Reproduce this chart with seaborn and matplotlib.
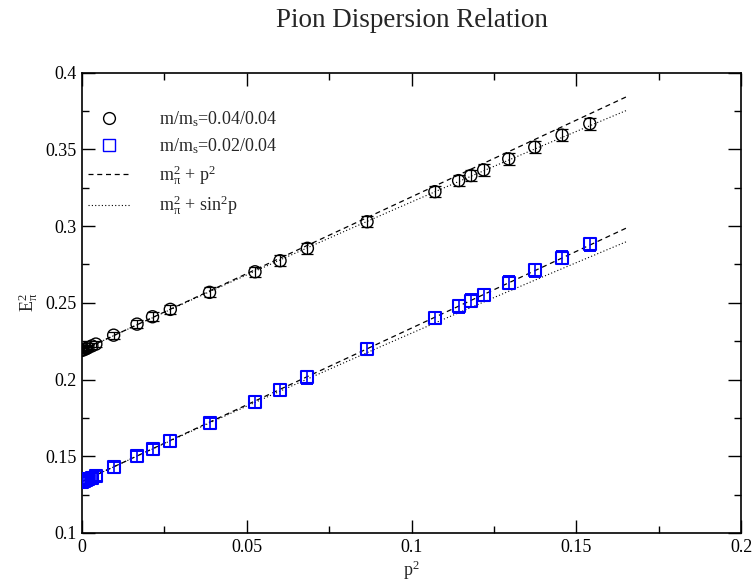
import numpy as np
import pandas as pd
import matplotlib
matplotlib.use("Agg")
import matplotlib.pyplot as plt
import seaborn as sns
from matplotlib.ticker import MultipleLocator, FuncFormatter
from matplotlib.lines import Line2D

# ---- data ----
p2 = [0.0, 0.0006, 0.0012, 0.0018, 0.0030, 0.0042, 0.0096, 0.0167, 0.0214,
      0.0268, 0.0387, 0.0525, 0.0601, 0.0684, 0.0865, 0.1071, 0.1143, 0.1180,
      0.1219, 0.1295, 0.1374, 0.1457, 0.1541]
E2_heavy = [0.2190, 0.2195, 0.2201, 0.2207, 0.2219, 0.2231, 0.2289, 0.2361,
            0.2409, 0.2457, 0.2568, 0.2702, 0.2774, 0.2855, 0.3028, 0.3224,
            0.3296, 0.3329, 0.3366, 0.3438, 0.3514, 0.3592, 0.3667]
err_heavy = [0.0015, 0.0015, 0.0015, 0.0016, 0.0017, 0.0018, 0.0022, 0.0026,
             0.0028, 0.0030, 0.0033, 0.0034, 0.0035, 0.0035, 0.0036, 0.0037,
             0.0037, 0.0037, 0.0037, 0.0037, 0.0038, 0.0038, 0.0038]
E2_light = [0.1333, 0.1340, 0.1346, 0.1352, 0.1360, 0.1370, 0.1427, 0.1501,
            0.1546, 0.1598, 0.1714, 0.1851, 0.1931, 0.2014, 0.2198, 0.2402,
            0.2477, 0.2513, 0.2550, 0.2630, 0.2711, 0.2793, 0.2881]
err_light = [0.0030, 0.0030, 0.0030, 0.0031, 0.0032, 0.0033, 0.0035, 0.0036,
             0.0037, 0.0038, 0.0038, 0.0039, 0.0039, 0.0040, 0.0040, 0.0041,
             0.0041, 0.0041, 0.0041, 0.0042, 0.0042, 0.0043, 0.0043]
# fitted pion masses squared for the two ensembles
mpi2 = {"heavy": 0.219, "light": 0.1335}
p2_max = 0.1655

labels = ["m/m$_\\mathregular{s}$=0.04/0.04", "m/m$_\\mathregular{s}$=0.02/0.04",
          "m$_\\mathregular{\\pi}^{\\mathregular{2}}$ + p$^\\mathregular{2}$",
          "m$_\\mathregular{\\pi}^{\\mathregular{2}}$ + sin$^\\mathregular{2}$p"]

# ---- style ----
sns.set_theme(style="ticks")
plt.rcParams["font.family"] = ["Liberation Serif", "DejaVu Serif"]
plt.rcParams["mathtext.fontset"] = "custom"
plt.rcParams["mathtext.rm"] = "Liberation Serif"
plt.rcParams["mathtext.it"] = "Liberation Serif:italic"

fig = plt.figure(figsize=(7.53, 5.82), dpi=100)
ax = fig.add_axes([0.1089, 0.0842, 0.8752, 0.7911])

# model curves
xs = np.linspace(0, p2_max, 200)
curves = []
for key in ["heavy", "light"]:
    curves.append(pd.DataFrame({"x": xs, "y": mpi2[key] + xs, "kind": "cont", "set": key}))
    curves.append(pd.DataFrame({"x": xs, "y": mpi2[key] + np.sin(np.sqrt(xs)) ** 2,
                                "kind": "lat", "set": key}))
for c in curves:
    ls = (0, (4, 3)) if c["kind"].iloc[0] == "cont" else (0, (1, 2))
    lw = 0.9 if c["kind"].iloc[0] == "cont" else 0.8
    sns.lineplot(data=c, x="x", y="y", ax=ax, color="black", linestyle=ls,
                 linewidth=lw, legend=False, estimator=None, sort=False)

# data points with errors
ax.errorbar(p2, E2_heavy, yerr=err_heavy, fmt="none", ecolor="black",
            elinewidth=0.9, capsize=4.6, capthick=0.9, zorder=3)
ax.errorbar(p2, E2_light, yerr=err_light, fmt="none", ecolor="#0000ff",
            elinewidth=1.2, capsize=4.3, capthick=1.4, zorder=3)
df_h = pd.DataFrame({"x": p2, "y": E2_heavy})
df_l = pd.DataFrame({"x": p2, "y": E2_light})
sns.scatterplot(data=df_h, x="x", y="y", ax=ax, marker="o", s=75,
                facecolors="none", edgecolor="black", linewidth=1.0, zorder=4)
sns.scatterplot(data=df_l, x="x", y="y", ax=ax, marker="s", s=75,
                facecolors="none", edgecolor="#0000ff", linewidth=1.5, zorder=4)

ax.set_xlim(0, 0.2)
ax.set_ylim(0.1, 0.4)
fmt = FuncFormatter(lambda v, pos: "%g" % round(v, 4))
ax.xaxis.set_major_locator(MultipleLocator(0.05))
ax.xaxis.set_minor_locator(MultipleLocator(0.025))
ax.yaxis.set_major_locator(MultipleLocator(0.05))
ax.yaxis.set_minor_locator(MultipleLocator(0.025))
ax.xaxis.set_major_formatter(fmt)
ax.yaxis.set_major_formatter(fmt)
ax.tick_params(which="both", direction="in", top=True, right=True, width=1.0,
               labelsize=13, colors="black")
ax.tick_params(which="major", length=9.5, pad=4)
ax.tick_params(which="minor", length=5)
for s in ax.spines.values():
    s.set_linewidth(1.2)
    s.set_color("black")
    s.set_visible(True)

ax.set_xlabel("p$^\\mathregular{2}$", fontsize=13, labelpad=2)
ax.set_ylabel("E$_\\mathregular{\\pi}^{\\mathregular{2}}$", fontsize=13, labelpad=4)
ax.set_title("Pion Dispersion Relation", fontsize=19.5, pad=33)

handles = [
    Line2D([], [], marker="o", color="black", markerfacecolor="none",
           linestyle="none", markersize=8.5, markeredgewidth=1.0),
    Line2D([], [], marker="s", color="#0000ff", markerfacecolor="none",
           linestyle="none", markersize=8.5, markeredgewidth=1.0),
    Line2D([], [], color="black", linestyle=(0, (4, 3)), linewidth=0.9),
    Line2D([], [], color="black", linestyle=(0, (1, 2)), linewidth=0.8),
]
ax.legend(handles, labels, loc="upper left", bbox_to_anchor=(-0.015, 0.955),
          frameon=False, fontsize=13, handlelength=2.3, handletextpad=1.6,
          labelspacing=0.38)

fig.savefig("out.png", dpi=100)
